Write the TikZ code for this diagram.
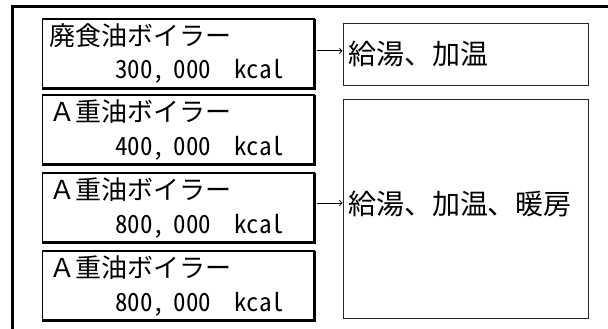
\documentclass[tikz,border=0pt]{standalone}
\usepackage{fontspec}
\setmainfont{Noto Sans CJK JP}
\newfontfamily\hw[RawFeature=+hwid]{Noto Sans CJK JP}
\usetikzlibrary{calc,positioning}

\begin{document}
\begin{tikzpicture}[x=0.75pt,y=0.75pt,
  boiler/.style={draw,line width=0.75pt,minimum width=204pt,minimum height=48pt,
    inner xsep=6pt,text width=192pt,align=left,font=\fontsize{19.5pt}{25pt}\selectfont},
  use/.style={draw=black!85,line width=0.75pt,minimum width=183.75pt,
    inner xsep=3.75pt,text width=176.25pt,align=left,font=\fontsize{21pt}{24pt}\selectfont},
  heavy/.style={line width=2.25pt}]
\useasboundingbox (0,0) rectangle (608,-329);
\draw [heavy] (12,-335) -- (12,-6.5) -- (615,-6.5);

\node (B1) [boiler,minimum height=48.75pt] at (178,-53.5) {廃食油ボイラー\\\hw\fontsize{18.75pt}{25pt}\selectfont\hspace*{49pt}300, 000\hspace{17pt}kcal};
\node (B2) [boiler] at (178,-130) {Ａ重油ボイラー\\\hw\fontsize{18.75pt}{25pt}\selectfont\hspace*{49pt}400, 000\hspace{17pt}kcal};
\node (B3) [boiler] at (178,-208) {Ａ重油ボイラー\\\hw\fontsize{18.75pt}{25pt}\selectfont\hspace*{49pt}800, 000\hspace{17pt}kcal};
\node (B4) [boiler] at (178,-286) {Ａ重油ボイラー\\\hw\fontsize{18.75pt}{25pt}\selectfont\hspace*{49pt}800, 000\hspace{17pt}kcal};

\draw [heavy] (B1.north east) -- (B1.south east) -- (B1.south west);
\draw [heavy] (B2.north east) -- (B2.south east) -- (B2.south west);
\draw [heavy] (B3.north east) -- (B3.south east) -- (B3.south west);
\draw [heavy] (B4.north east) -- (B4.south east) -- (B4.south west);
\draw [line width=1.5pt] (B1.north west) -- (B1.north east);
\draw [line width=1.5pt] (B2.north west) -- (B2.north east);
\draw [line width=1.5pt] (B3.north west) -- (B3.north east);
\draw [line width=1.5pt] (B4.north west) -- (B4.north east);

\node (U1) [use,minimum height=46.5pt] at (465.5,-54) {給湯、加温};
\node (U2) [use,minimum height=164.25pt,text depth=8pt] at (465.5,-208.5) {給湯、加温、暖房};

\draw [->,line width=0.75pt,shorten <=1.5pt] ([yshift=2pt]B1.east) -- ([yshift=2pt]B1.east -| U1.west);
\draw [->,line width=0.75pt,shorten <=1.5pt] ([yshift=3.75pt]B3.east) -- ([yshift=3.75pt]B3.east -| U2.west);
\end{tikzpicture}
\end{document}
